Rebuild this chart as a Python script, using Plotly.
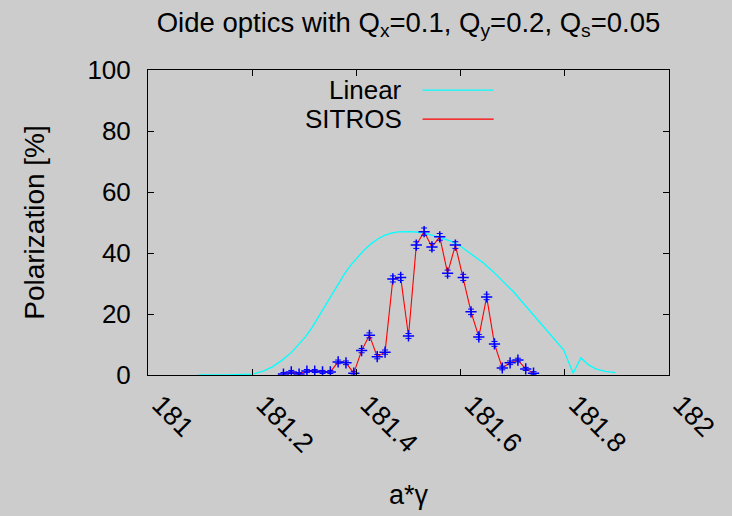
import plotly.graph_objects as go

# Linear (analytic) polarization curve
linear_x = [181.097, 181.150, 181.200, 181.220, 181.238, 181.257, 181.276, 181.290,
            181.302, 181.315, 181.327, 181.340, 181.352, 181.365, 181.378, 181.390,
            181.403, 181.415, 181.428, 181.441, 181.454, 181.467, 181.480, 181.492,
            181.505, 181.518, 181.530, 181.555, 181.580, 181.600, 181.618, 181.644,
            181.663, 181.683, 181.702, 181.720, 181.740, 181.759, 181.779, 181.798,
            181.816, 181.831, 181.845, 181.859, 181.878, 181.897]
linear_y = [0.0, 0.0, 0.3, 1.2, 2.6, 4.8, 7.5, 10.0,
            12.5, 15.6, 19.0, 22.6, 26.0, 29.8, 33.4, 36.2,
            38.7, 41.0, 43.0, 44.6, 45.8, 46.5, 46.9, 47.0,
            47.0, 46.8, 46.5, 45.4, 44.0, 42.2, 40.0, 36.7,
            33.8, 30.5, 27.2, 23.6, 19.7, 15.7, 12.0, 8.2,
            0.6, 5.6, 3.4, 2.0, 1.2, 0.8]

# SITROS tracking results
sitros_x = [181.26 + 0.015 * i for i in range(33)]
sitros_y = [0.3, 1.0, 0.3, 1.3, 1.3, 1.0, 1.0, 4.3, 4.0, 0.6,
            8.0, 13.0, 6.0, 7.5, 31.5, 32.0, 12.8, 42.6, 47.0, 42.0,
            45.3, 33.4, 42.6, 32.0, 20.7, 12.5, 25.6, 10.2, 2.3, 4.0,
            4.9, 2.0, 0.6]
sitros_err = [0.5, 0.5, 0.5, 0.5, 0.5, 0.5, 0.5, 0.6, 0.6, 0.6,
              0.7, 0.8, 0.7, 0.7, 1.0, 1.0, 0.8, 1.1, 1.2, 1.1,
              1.1, 1.0, 1.1, 1.0, 0.9, 0.8, 0.9, 0.8, 0.6, 0.6,
              0.6, 0.5, 0.5]

x_ticks = [181, 181.2, 181.4, 181.6, 181.8, 182]
x_tick_text = ["181", "181.2", "181.4", "181.6", "181.8", "182"]
y_ticks = [0, 20, 40, 60, 80, 100]

FONT = "Liberation Sans, Arial, sans-serif"
BG = "#cccccc"

fig = go.Figure()
fig.add_trace(go.Scatter(x=linear_x, y=linear_y, mode="lines",
                         line=dict(color="#00ffff", width=1.3),
                         name="Linear", showlegend=False))
fig.add_trace(go.Scatter(x=sitros_x, y=sitros_y, mode="lines",
                         line=dict(color="#ff0000", width=1.1),
                         name="SITROS", showlegend=False))
fig.add_trace(go.Scatter(x=sitros_x, y=sitros_y, mode="markers",
                         marker=dict(symbol="cross-thin", size=8,
                                     line=dict(color="#0000ff", width=1.5)),
                         error_y=dict(type="data", array=sitros_err, color="#0000ff",
                                      thickness=1, width=3),
                         showlegend=False))

# gnuplot-style key: text right-aligned, sample line to the right
key_rows = [("Linear", "#00ffff", 0.934), ("SITROS", "#ff0000", 0.839)]
for label, col, yy in key_rows:
    fig.add_annotation(x=0.492, y=yy, xref="paper", yref="paper", text=label,
                       showarrow=False, xanchor="right", yanchor="middle",
                       font=dict(family=FONT, size=26, color="black"))
    fig.add_shape(type="line", xref="paper", yref="paper",
                  x0=0.527, x1=0.6635, y0=yy, y1=yy,
                  line=dict(color=col, width=1.2))

fig.update_layout(
    width=732, height=516,
    margin=dict(l=148, r=58, t=70, b=141),
    paper_bgcolor=BG, plot_bgcolor=BG,
    font=dict(family=FONT, size=26, color="black"),
    title=dict(text="Oide optics with Q<sub>x</sub>=0.1, Q<sub>y</sub>=0.2, Q<sub>s</sub>=0.05",
               x=0.5, xref="paper", xanchor="center",
               y=1 - 22 / 516, yref="container", yanchor="middle",
               font=dict(family=FONT, size=27.5, color="black")),
    xaxis=dict(range=[181, 182], tickvals=x_ticks, ticktext=x_tick_text,
               tickangle=45, ticks="inside", ticklen=6, tickcolor="black",
               tickfont=dict(family=FONT, size=27, color="black"),
               showline=True, linecolor="black", linewidth=1, mirror="allticks",
               showgrid=False, zeroline=False, ticklabelstandoff=2,
               ticklabelshift=12,
               title=dict(text="a*γ", standoff=27,
                          font=dict(family=FONT, size=27, color="black"))),
    yaxis=dict(range=[0, 100], tickvals=y_ticks,
               ticks="inside", ticklen=6, tickcolor="black",
               tickfont=dict(family=FONT, size=26, color="black"),
               showline=True, linecolor="black", linewidth=1, mirror="allticks",
               showgrid=False, zeroline=False, ticklabelstandoff=11,
               title=dict(text="Polarization [%]", standoff=34,
                          font=dict(family=FONT, size=28, color="black"))),
)

fig.write_html("out.html")
